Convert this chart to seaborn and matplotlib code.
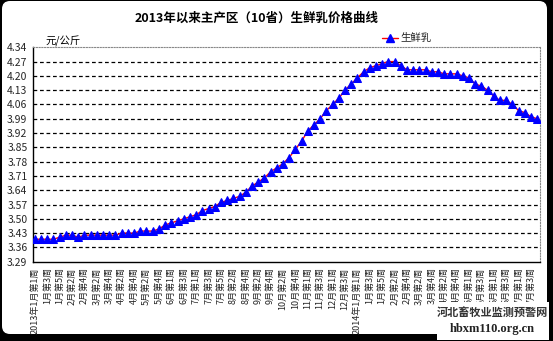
import numpy as np
import pandas as pd
import matplotlib
matplotlib.use("Agg")
import matplotlib.pyplot as plt
import seaborn as sns
from matplotlib.patches import FancyBboxPatch, Rectangle
from matplotlib.transforms import IdentityTransform
from matplotlib.lines import Line2D

# Weekly fresh milk price, 10 main producing provinces (yuan/kg)
prices = [
    3.40, 3.40, 3.40, 3.40, 3.41, 3.42, 3.42, 3.41, 3.42, 3.42,
    3.42, 3.42, 3.42, 3.42, 3.43, 3.43, 3.43, 3.44, 3.44, 3.44,
    3.45, 3.47, 3.48, 3.49, 3.50, 3.51, 3.52, 3.54, 3.55, 3.56,
    3.58, 3.59, 3.60, 3.61, 3.63, 3.66, 3.68, 3.70, 3.73, 3.75,
    3.77, 3.80, 3.84, 3.88, 3.93, 3.96, 3.99, 4.03, 4.06, 4.09,
    4.13, 4.16, 4.19, 4.22, 4.24, 4.25, 4.26, 4.27, 4.27, 4.25,
    4.23, 4.23, 4.23, 4.23, 4.22, 4.22, 4.21, 4.21, 4.21, 4.20,
    4.19, 4.16, 4.15, 4.13, 4.10, 4.08, 4.08, 4.06, 4.03, 4.02,
    4.00, 3.99,
]

# Labels shown on every second week
week_labels = [
    "2013年1月第1周", "1月第3周", "1月第5周", "2月第2周", "2月第4周",
    "3月第2周", "3月第4周", "4月第2周", "4月第4周", "5月第2周",
    "5月第4周", "6月第1周", "6月第3周", "7月第1周", "7月第3周",
    "7月第5周", "8月第2周", "8月第4周", "9月第2周", "9月第4周",
    "10月第2周", "10月第4周", "11月第1周", "11月第3周", "12月第1周",
    "12月第3周", "2014年1月第1周", "1月第3周", "1月第5周", "2月第2周",
    "2月第4周", "3月第2周", "3月第4周", "4月第2周", "4月第4周",
    "5月第1周", "5月第3周", "6月第1周", "6月第3周", "7月第1周",
    "7月第3周",
]

y_ticks = [3.29, 3.36, 3.43, 3.50, 3.57, 3.64, 3.71, 3.78, 3.85, 3.92,
           3.99, 4.06, 4.13, 4.20, 4.27, 4.34]

series_name = "生鲜乳"
title = "2013年以来主产区（10省）生鲜乳价格曲线"
unit = "元/公斤"

sns.set_style("white")
plt.rcParams["font.family"] = ["Noto Sans CJK SC", "DejaVu Sans"]

W, H = 553, 341
fig = plt.figure(figsize=(W / 100, H / 100), dpi=100)
fig.patch.set_facecolor("black")

# white rounded panel behind everything
panel = FancyBboxPatch((2, 7), 545, 333,
                       boxstyle="round,pad=0,rounding_size=8",
                       facecolor="white", edgecolor="none",
                       transform=IdentityTransform(), zorder=-10)
fig.patches.append(panel)

ax = fig.add_axes([33 / W, 1 - 261.7 / H, (540 - 33) / W, (261.7 - 47.3) / H])
ax.set_facecolor("white")

df = pd.DataFrame({"week": np.arange(len(prices)), "price": prices})
sns.lineplot(data=df, x="week", y="price", ax=ax, color="red", linewidth=1.0,
             marker="^", markersize=5.5, markerfacecolor="#0000ff",
             markeredgecolor="#0000ff", zorder=3)

ax.set_xlim(-0.3, len(prices) - 1 + 0.45)
ax.set_ylim(y_ticks[0], y_ticks[-1])
ax.set_yticks(y_ticks)
ax.set_yticklabels([f"{v:.2f}" for v in y_ticks], fontsize=7.5)
ax.set_xticks(np.arange(len(prices)))
ax.set_xticklabels([week_labels[i // 2] if i % 2 == 0 else "" for i in range(len(prices))],
                   rotation=90, fontsize=6.5, va="top", ha="center")
ax.tick_params(axis="x", direction="in", length=3, width=0.8, pad=4, color="black")
ax.tick_params(axis="y", length=0, pad=4)
ax.set_xlabel("")
ax.set_ylabel("")

for v in y_ticks[1:-1]:
    ax.axhline(v, color="black", linewidth=0.9, linestyle=(0, (3, 2.2)), zorder=1)

for side in ["left", "bottom"]:
    ax.spines[side].set_color("black")
    ax.spines[side].set_linewidth(1.0)
for side in ["top", "right"]:
    ax.spines[side].set_color("#888888")
    ax.spines[side].set_linewidth(0.8)
    ax.spines[side].set_linestyle((0, (1, 1.5)))

fig.text(257 / W, 1 - 18 / H, title, fontsize=9, fontweight="bold",
         ha="center", va="center", color="black")
fig.text(45 / W, 1 - 41 / H, unit, fontsize=7.5, ha="left", va="center",
         style="italic", color="black")

# legend
leg_y = 1 - 38 / H
fig.add_artist(Line2D([382 / W, 398 / W], [leg_y, leg_y], color="red", linewidth=1.0,
                      transform=fig.transFigure))
fig.add_artist(Line2D([390 / W], [leg_y], marker="^", markersize=5.5, color="#0000ff",
                      transform=fig.transFigure))
fig.text(400 / W, leg_y, series_name, fontsize=7.5, ha="left", va="center")

# site mark box at the lower right
fig.patches.append(Rectangle((437, 1), 112, 38, facecolor="white", edgecolor="none",
                             transform=IdentityTransform(), zorder=5))
fig.text(492 / W, 1 - 312 / H, "河北畜牧业监测预警网", fontsize=8, fontweight="bold",
         ha="center", va="center", color="#333333", zorder=6)
fig.text(492 / W, 1 - 329 / H, "hbxm110.org.cn", fontsize=9, fontweight="bold",
         family="Liberation Serif", ha="center", va="center", color="#222222", zorder=6)

fig.savefig("out.png", dpi=100, facecolor=fig.get_facecolor())
